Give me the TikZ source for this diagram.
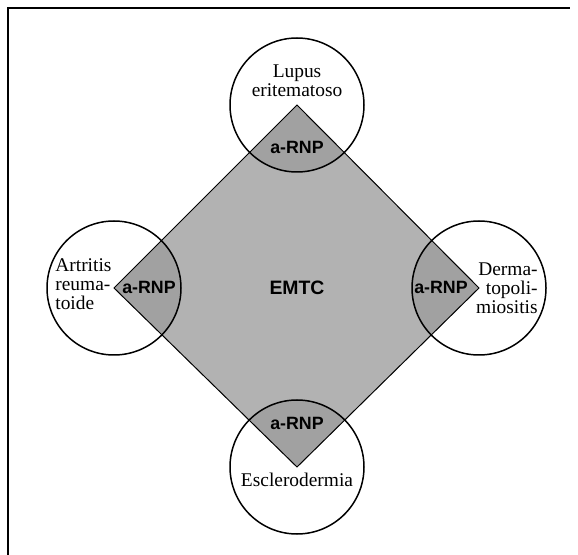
\documentclass[tikz,border=0pt]{standalone}
\usepackage{fontspec}
\setmainfont{Liberation Serif}
\setsansfont{Liberation Sans}
\begin{document}
\begin{tikzpicture}[x=0.5pt,y=-0.5pt,
	disease/.style={circle,draw,line width=0.75pt,minimum size=67pt,inner sep=0pt},
	diseasename/.style={font=\fontsize{9.7}{9.4}\selectfont,align=center,inner sep=0pt},
	antibody/.style={font=\sffamily\bfseries\fontsize{8.9}{9}\selectfont,inner sep=0pt},
	overlap/.style={fill=black!37}]
\useasboundingbox (0,0) rectangle (578,555);
% frame
\draw[line width=1pt] (8,555) -- (8,8) -- (570,8);
% corners of the square
\coordinate (N) at (297,105);
\coordinate (W) at (114,288);
\coordinate (E) at (479,288);
\coordinate (S) at (297,467);
\fill[black!30] (N) -- (E) -- (S) -- (W) -- cycle;
\begin{scope}
	\clip (N) -- (E) -- (S) -- (W) -- cycle;
	\foreach \c in {N,W,E,S}
		\fill[overlap] (\c) circle (67);
\end{scope}
\draw[line width=0.5pt] (N) -- (E) -- (S) -- (W) -- cycle;
% diseases
\node[disease] (lupus) at (N) {};
\node[disease] (artritis) at (W) {};
\node[disease] (derma) at (E) {};
\node[disease] (esclero) at (S) {};
\node[diseasename] (lupus-t) at (297,81) {Lupus\\eritematoso};
\node[diseasename,align=left,anchor=west] (artritis-t) at (55,284) {Artritis\\reuma-\\toide};
\node[diseasename,align=right,anchor=east] (derma-t) at (538,288) {Derma-\\topoli-\\miositis};
\node[diseasename] (esclero-t) at (297,480) {Esclerodermia};
% antibodies
\node[antibody] (rnp-n) at (297,147) {a-RNP};
\node[antibody] (rnp-w) at (149,287) {a-RNP};
\node[antibody] (rnp-e) at (441,287) {a-RNP};
\node[antibody] (rnp-s) at (297,423) {a-RNP};
\node[antibody,font=\sffamily\bfseries\fontsize{9.7}{10}\selectfont] (emtc) at (297,288) {EMTC};
\end{tikzpicture}
\end{document}
